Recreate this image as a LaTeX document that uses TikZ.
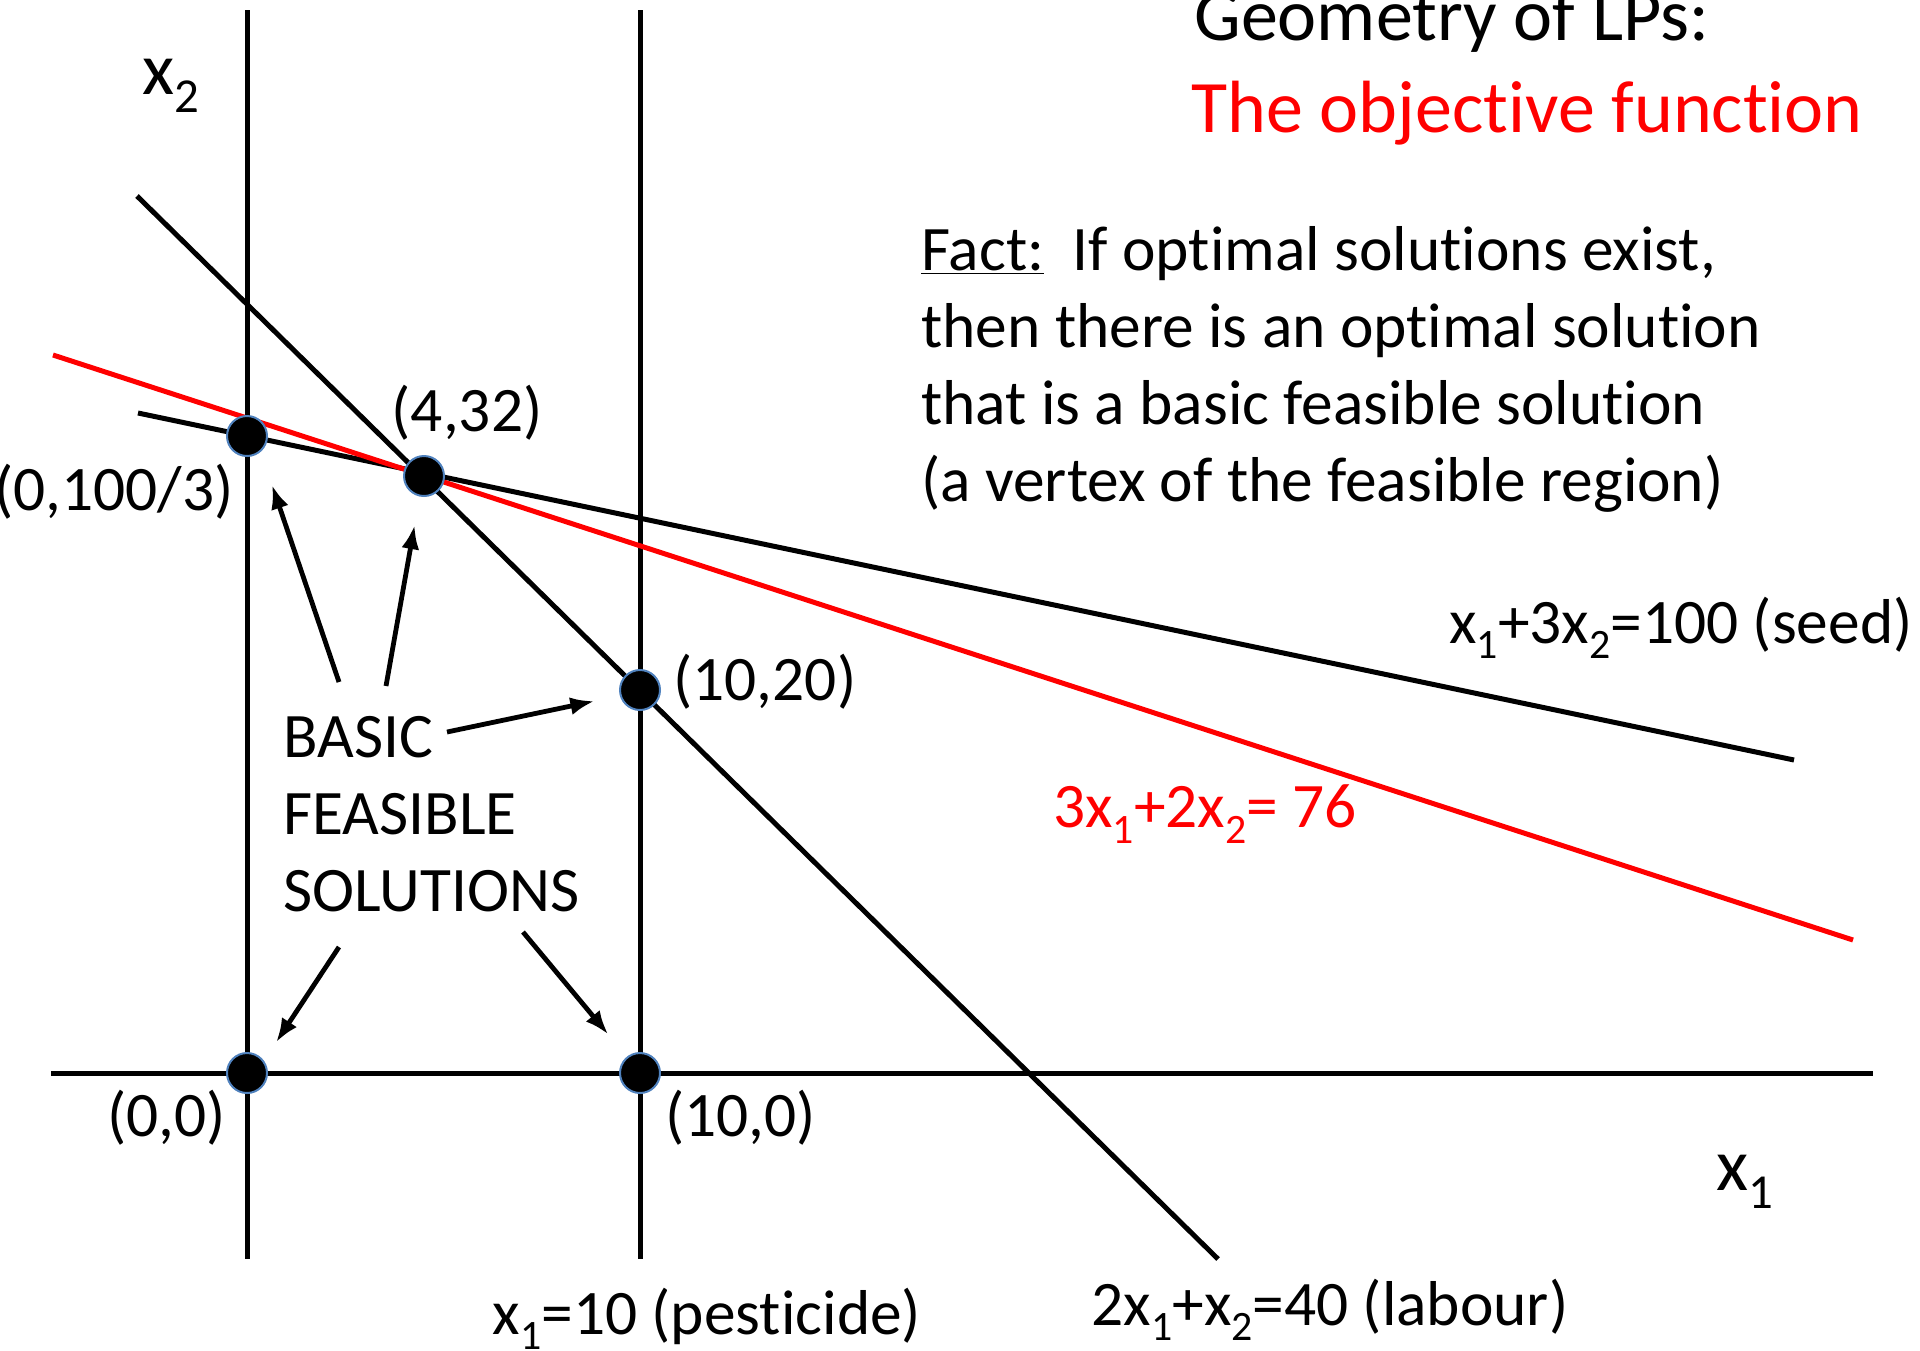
\documentclass[tikz,border=0pt]{standalone}
\usepackage{fontspec}
\setmainfont{Carlito}[Ligatures=NoCommon]
\usepackage{xcolor}
\usepackage{graphicx}
\usetikzlibrary{arrows.meta, positioning}
\definecolor{ptblue}{HTML}{4F81BD}
\newcommand{\lsub}[1]{\raisebox{-0.24em}{\scalebox{0.66}{#1}}}

\begin{document}
\begin{tikzpicture}[x=0.5pt, y=-0.5pt,
  lbl/.style={font=\fontsize{31.7}{38.5}\selectfont, inner sep=0pt},
  big/.style={font=\fontsize{37}{45.5}\selectfont, inner sep=0pt},
  vtx/.style={circle, fill=black, draw=ptblue, line width=1pt, minimum size=20pt, inner sep=0pt},
  ln/.style={line width=2.5pt},
  arr/.style={-{Latex[length=12pt,width=9pt]}, line width=2.4pt}]
\useasboundingbox (0,0) rectangle (1920,1350);
\coordinate (ax2top) at (247,10);
\coordinate (ax2bot) at (247,1259);
\coordinate (pesttop) at (640,10);
\coordinate (pestbot) at (640,1259);
\coordinate (ax1l) at (51,1073);
\coordinate (ax1r) at (1873,1073);
\coordinate (seedl) at (138,413);
\coordinate (seedr) at (1794,760);
\coordinate (labl) at (137,196);
\coordinate (labr) at (1218,1259);
\coordinate (objl) at (53,355);
\coordinate (objr) at (1853,940);
\draw[ln] (ax2top) -- (ax2bot);
\draw[ln] (pesttop) -- (pestbot);
\draw[ln] (ax1l) -- (ax1r);
\draw[ln] (seedl) -- (seedr);
\draw[ln] (labl) -- (labr);
\draw[ln, red] (objl) -- (objr);
\node[vtx] (v00) at (247,1073) {};
\node[vtx] (v100) at (640,1073) {};
\node[vtx] (v1020) at (640,690) {};
\node[vtx] (v432) at (424,476) {};
\node[vtx] (v0100) at (247,436) {};
\node[big, anchor=base west] (ttl) at (1194,40) {Geometry of LPs:};
\node[big, anchor=base west, text=red] (ttlred) at (1191,132) {The objective function};
\node[big] (lx2) at (171,86) {x\lsub{2}};
\node[big] (lx1) at (1745,1182) {x\lsub{1}};
\node[lbl, align=left, anchor=west] (fact) at (921,369) {\underline{Fact:}~ If optimal solutions exist,\\then there is an optimal solution\\that is a basic feasible solution\\(a vertex of the feasible region)};
\node[lbl, anchor=east] (l0100) at (234,492) {(0,100/3)};
\node[lbl] (l432) at (467,413) {(4,32)};
\node[lbl, anchor=west] (l1020) at (673,682) {(10,20)};
\node[lbl, anchor=east] (l00) at (226,1118) {(0,0)};
\node[lbl, anchor=west] (l100) at (665,1118) {(10,0)};
\node[lbl, align=left, anchor=west] (bfs) at (283,814) {BASIC\\FEASIBLE\\SOLUTIONS};
\node[lbl] (lseed) at (1681,628) {x\lsub{1}+3x\lsub{2}=100 (seed)};
\node[lbl, text=red] (lobj) at (1205,814) {3x\lsub{1}+2x\lsub{2}= 76};
\node[lbl] (lpest) at (707,1319) {x\lsub{1}=10 (pesticide)};
\node[lbl] (llab) at (1330,1310) {2x\lsub{1}+x\lsub{2}=40 (labour)};
\coordinate (t1) at (339,682);
\coordinate (t2) at (386,686);
\coordinate (t3) at (447,732);
\coordinate (t4) at (339,947);
\coordinate (t5) at (523,932);
\draw[arr, shorten >=17.5pt] (t1) -- (v0100.-49);
\draw[arr, shorten >=14.5pt] (t2) -- (v432.258);
\draw[arr, shorten >=13pt] (t3) -- (v1020.196);
\draw[arr, shorten >=11pt] (t4) -- (v00.36);
\draw[arr, shorten >=14.5pt] (t5) -- (v100.129);
\end{tikzpicture}
\end{document}
